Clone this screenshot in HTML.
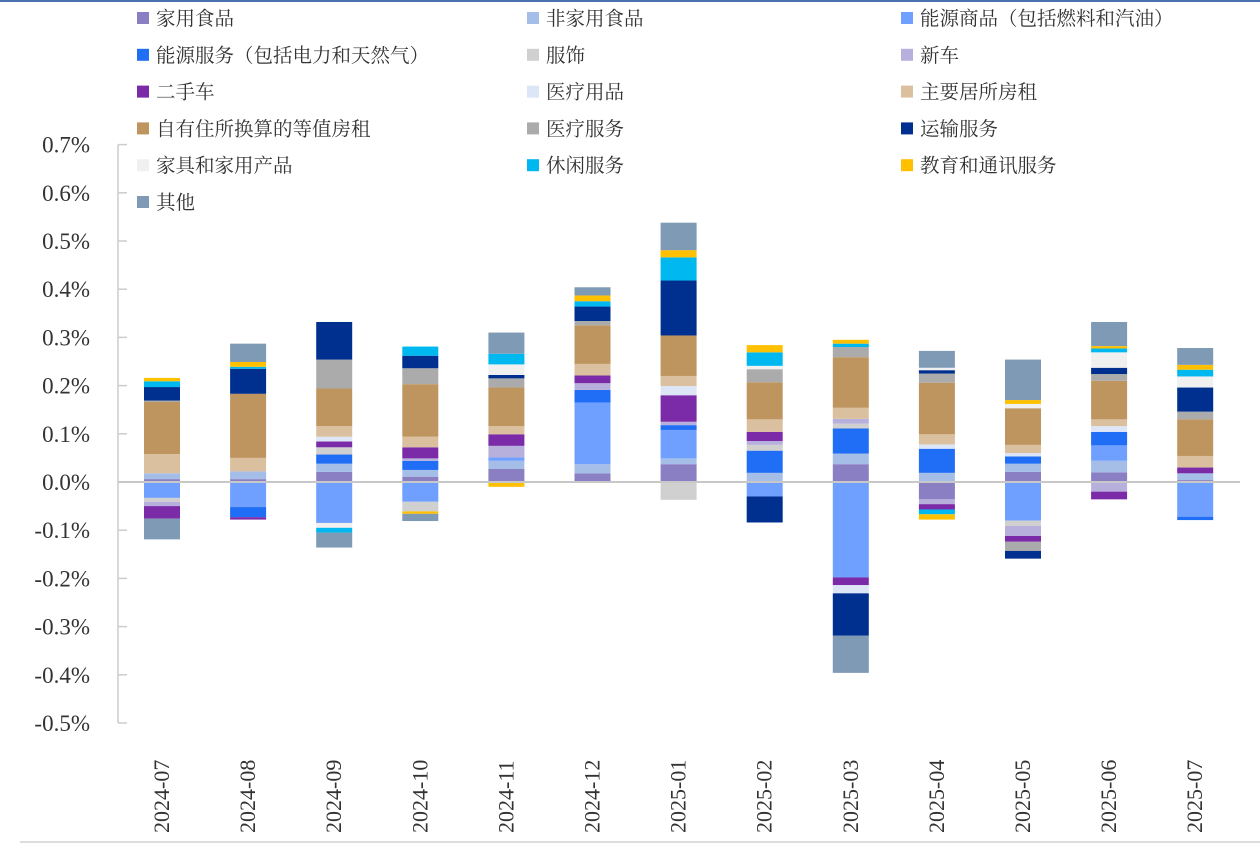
<!DOCTYPE html>
<html><head><meta charset="utf-8">
<style>
html,body{margin:0;padding:0;background:#fff;}
body{width:1260px;height:846px;overflow:hidden;position:relative;font-family:"Liberation Sans","Noto Sans CJK SC",sans-serif;}
svg text{font-family:"Liberation Serif","Noto Serif CJK SC",serif;}
.lg{font-family:"Liberation Serif","Noto Serif CJK SC",serif;font-size:19.5px;fill:#333;}
</style></head>
<body>
<svg id="chart" width="1260" height="846" xmlns="http://www.w3.org/2000/svg">
<rect x="0" y="0" width="1260" height="2" fill="#4a72b0"/>
<line x1="20" y1="842" x2="1260" y2="842" stroke="#ddd" stroke-width="2"/>
<g id="legend"></g>
<g id="grid"></g>
<g id="bars"></g>
<g id="xlabels"></g>
</svg>
<script>
const categories=["2024-07","2024-08","2024-09","2024-10","2024-11","2024-12","2025-01","2025-02","2025-03","2025-04","2025-05","2025-06","2025-07"];
const seriesNames=["家用食品","非家用食品","能源商品（包括燃料和汽油）","能源服务（包括电力和天然气）","服饰","新车","二手车","医疗用品","主要居所房租","自有住所换算的等值房租","医疗服务","运输服务","家具和家用产品","休闲服务","教育和通讯服务","其他"];
const seriesColors=["#8b7fc3","#a4bee8","#70a0ff","#1f6ef5","#d0d0d0","#b8b0dc","#7b2aa8","#dce6f7","#dbc09f","#be955e","#ababab","#00308f","#f0f0f0","#00b8f0","#ffc000","#7f9ab5"];
const sFood=[0.006,0.006,0.021,0.011,0.027,0.018,0.037,0,0.037,-0.036,0.021,0.020,0.004];
const sAway=[0.012,0.016,0.017,0.014,0.017,0.019,0.012,0.019,0.022,0.019,0.017,0.024,0.014];
const sEnergyGoods=[-0.033,-0.052,-0.085,-0.041,0.007,0.128,0.059,-0.030,-0.198,0,-0.080,0.032,-0.072];
const sEnergyServ=[0,-0.021,0.019,0.019,0,0.026,0.010,0.046,0.052,0.050,0.015,0.028,-0.007];
const sApparel=[-0.008,0,0.015,-0.020,0,0,-0.037,0.012,0.010,0,-0.011,0,0];
const sNewCar=[-0.009,0,0,0.005,0.024,0.014,0.007,0.008,0.010,-0.010,-0.021,-0.020,0];
const sUsedCar=[-0.026,-0.005,0.012,0.023,0.024,0.016,0.055,0.019,-0.016,-0.011,-0.012,-0.016,0.012];
const sMedGoods=[0,0,0.010,0,0,0,0.019,0,-0.017,0.009,0.007,0.012,0];
const sRent=[0.040,0.028,0.022,0.022,0.017,0.024,0.021,0.026,0.023,0.021,0.017,0.014,0.024];
const sOER=[0.108,0.133,0.078,0.109,0.080,0.080,0.084,0.077,0.105,0.107,0.076,0.080,0.076];
const sMedServ=[0.003,0,0.060,0.033,0.019,0.009,0,0.027,0.021,0.019,-0.019,0.014,0.016];
const sTransport=[0.028,0.052,0.078,0.026,0.007,0.030,0.114,-0.054,-0.088,0.007,-0.016,0.013,0.050];
const sFurnish=[0,0,-0.010,0,0.022,0,0,0.007,0,0.005,0.009,0.032,0.023];
const sRecreation=[0.012,0.004,-0.010,0.019,0.022,0.011,0.048,0.028,0.007,-0.010,0,0.008,0.014];
const sEducation=[0.007,0.010,0,-0.005,-0.010,0.012,0.015,0.015,0.008,-0.011,0.008,0.005,0.010];
const sOther=[-0.043,0.038,-0.031,-0.015,0.044,0.017,0.057,0,-0.077,0.035,0.084,0.050,0.035];
const seriesValues=[sFood,sAway,sEnergyGoods,sEnergyServ,sApparel,sNewCar,sUsedCar,sMedGoods,sRent,sOER,sMedServ,sTransport,sFurnish,sRecreation,sEducation,sOther];
const yTicks=[0.7,0.6,0.5,0.4,0.3,0.2,0.1,0.0,-0.1,-0.2,-0.3,-0.4,-0.5];

const NS="http://www.w3.org/2000/svg";
function mk(tag,attrs,parent){const e=document.createElementNS(NS,tag);for(const k in attrs)e.setAttribute(k,attrs[k]);parent.appendChild(e);return e;}
const y0=482,pxPer=482;
function yS(v){return y0-v*pxPer;}
function xS(i){return 162+i*86.1;}
const bw=36;

const lg=document.getElementById('legend');
const colX=[137,527,901];
seriesNames.forEach((n,i)=>{
  const col=i%3,row=Math.floor(i/3);
  const cy=18+row*36.8;
  const r=mk('rect',{x:colX[col],y:cy-6,width:12,height:12,fill:seriesColors[i]},lg);
  
  
  const t=mk('text',{x:colX[col]+19,y:cy+7,class:'lg'},lg);
  t.textContent=n;
  
  
});

const g=document.getElementById('grid');
mk('line',{x1:118,y1:yS(0.7),x2:118,y2:yS(-0.5),stroke:'#ccc','stroke-width':1.5},g);
yTicks.forEach(v=>{
  mk('line',{x1:118,y1:yS(v),x2:127,y2:yS(v),stroke:'#ccc','stroke-width':1.5},g);
  const t=mk('text',{x:90,y:yS(v)+8,'text-anchor':'end','font-size':23,fill:'#333'},g);
  t.textContent=v.toFixed(1)+'%';
  
  
});

const b=document.getElementById('bars');
categories.forEach((c,i)=>{
  let pos=0,neg=0;
  seriesValues.forEach((s,k)=>{
    const v=s[i];if(!v)return;
    let top,bot;
    if(v>0){bot=pos;pos+=v;top=pos;}else{top=neg;neg+=v;bot=neg;}
    const r=mk('rect',{x:xS(i)-bw/2,y:yS(top),width:bw,height:yS(bot)-yS(top),fill:seriesColors[k]},b);
    
    
  });
});
mk('line',{x1:118,y1:y0,x2:1240,y2:y0,stroke:'#c8c8c8','stroke-width':2},b);

const xl=document.getElementById('xlabels');
categories.forEach((c,i)=>{
  const x=xS(i)+7,y=833;
  const t=mk('text',{x:x,y:y,transform:`rotate(-90 ${x} ${y})`,'font-size':22,fill:'#333'},xl);
  t.textContent=c;
  
  
});
</script>
</body></html>
